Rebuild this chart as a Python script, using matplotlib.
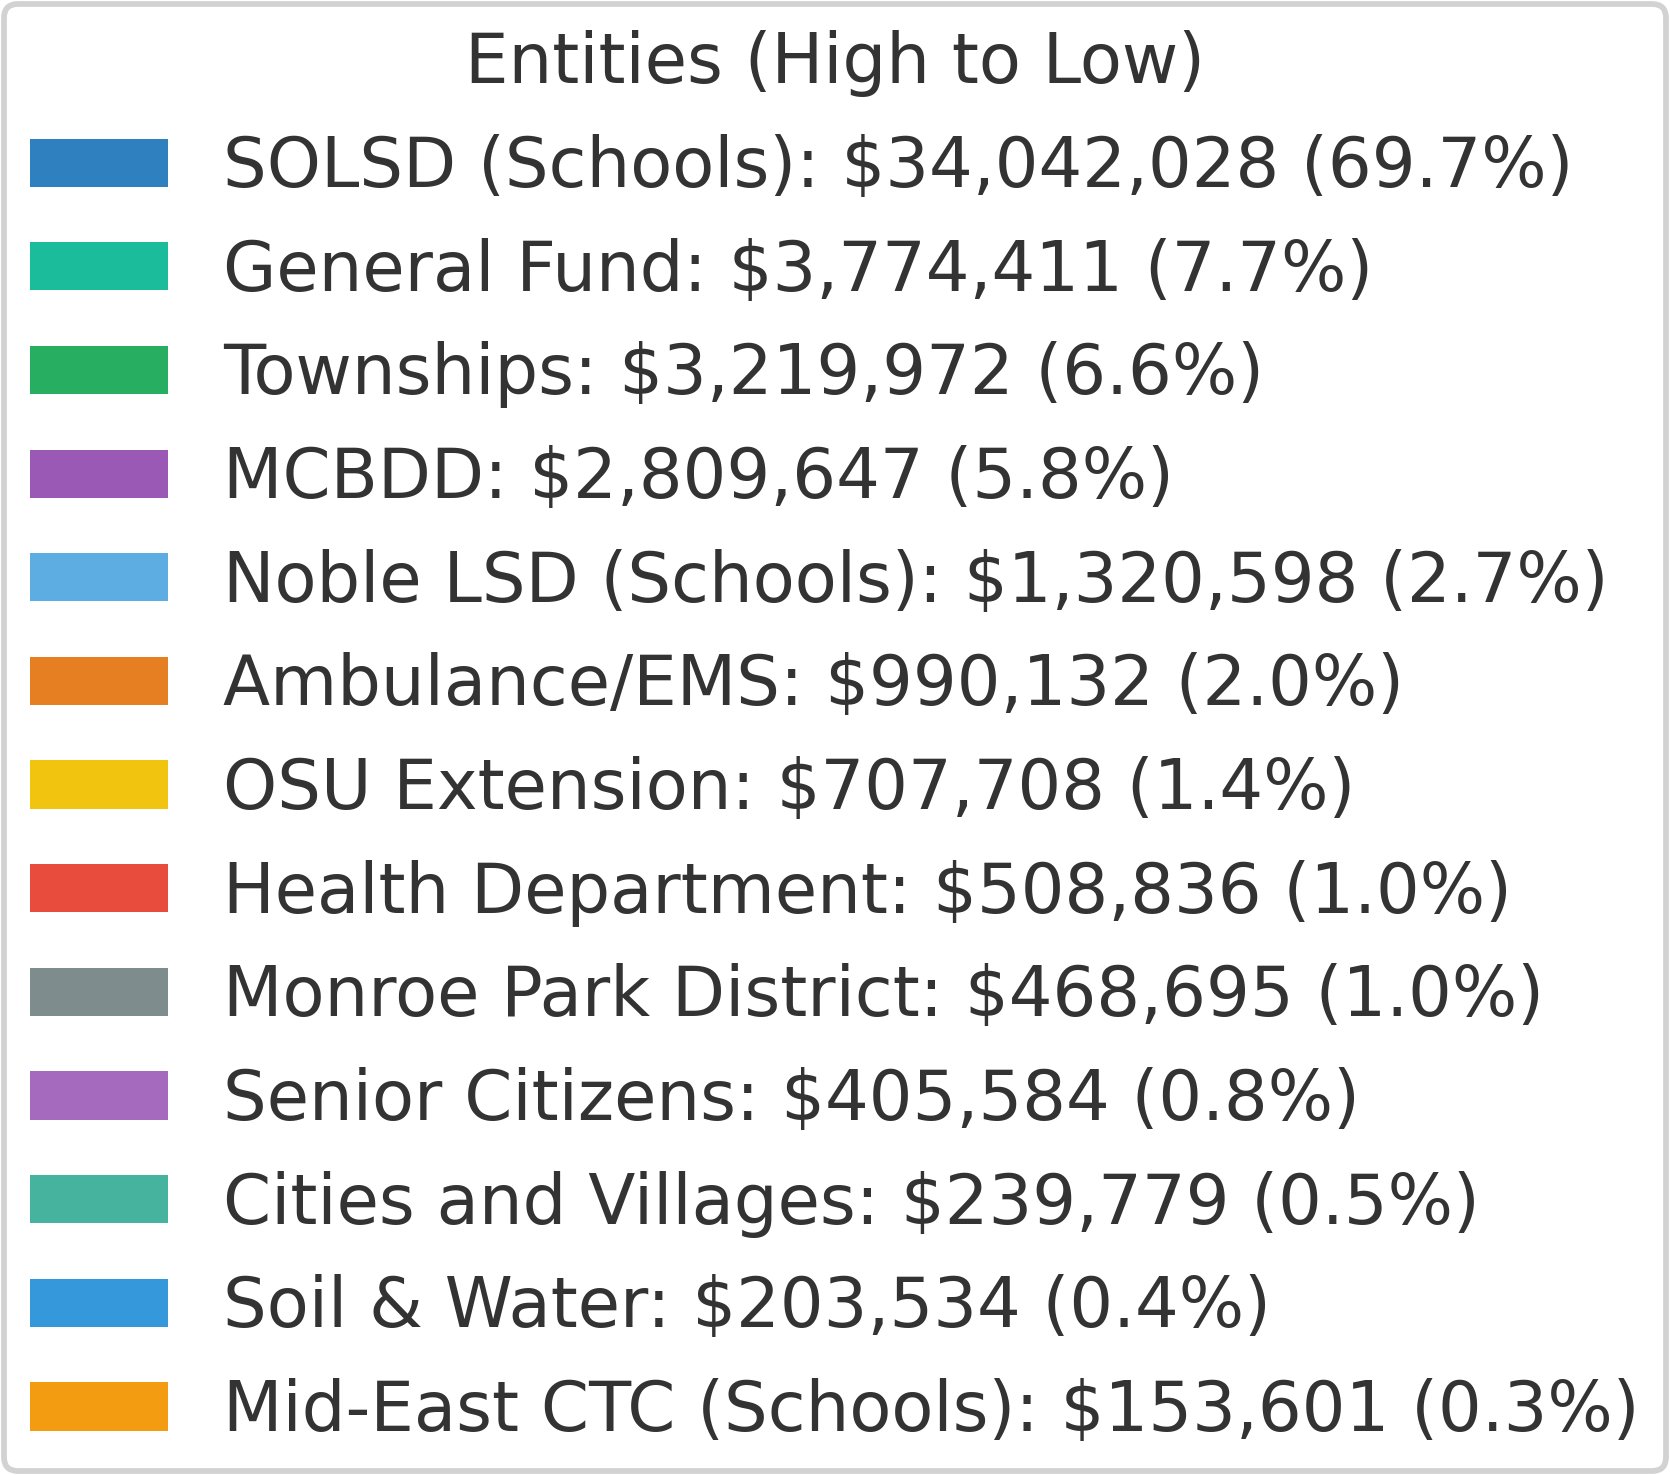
import matplotlib
matplotlib.use("Agg")
import matplotlib.pyplot as plt
from matplotlib.patches import Patch
from matplotlib.transforms import Bbox

entities = ["SOLSD (Schools)", "General Fund", "Townships", "MCBDD", "Noble LSD (Schools)",
            "Ambulance/EMS", "OSU Extension", "Health Department", "Monroe Park District",
            "Senior Citizens", "Cities and Villages", "Soil & Water", "Mid-East CTC (Schools)"]
amounts = [34042028, 3774411, 3219972, 2809647, 1320598, 990132, 707708, 508836,
           468695, 405584, 239779, 203534, 153601]
percents = [69.7, 7.7, 6.6, 5.8, 2.7, 2.0, 1.4, 1.0, 1.0, 0.8, 0.5, 0.4, 0.3]
colors = ["#2E80BE", "#1ABC9C", "#27AE60", "#9B59B6", "#5DADE2", "#E67E22", "#F1C40F",
          "#E74C3C", "#7F8C8D", "#A569BD", "#45B39D", "#3498DB", "#F39C12"]
title = "Entities (High to Low)"

plt.rcParams['font.family'] = ['DejaVu Sans']
TXT = "#333333"
FS = 24

fig = plt.figure(figsize=(10, 10), dpi=100)
handles = [Patch(facecolor=c, edgecolor=c, linewidth=0) for c in colors]
labels = [f"{n}: ${a:,} ({p:.1f}%)" for n, a, p in zip(entities, amounts, percents)]
leg = fig.legend(handles, labels, loc="center", fontsize=FS, title=title,
                 title_fontsize=FS, frameon=True, fancybox=True,
                 labelcolor=TXT, framealpha=1.0, borderpad=0.38, labelspacing=0.532)
leg.get_title().set_color(TXT)
frame = leg.get_frame()
frame.set_edgecolor("#d2d2d2")
frame.set_linewidth(2.0)
frame.set_facecolor("white")

pad = 0.02
dpi = 100
for _ in range(4):
    fig.set_dpi(dpi)
    fig.canvas.draw()
    r = fig.canvas.get_renderer()
    bb = frame.get_window_extent(r).transformed(fig.dpi_scale_trans.inverted())
    dpi = 1670 / (bb.width + 2 * pad)

fig.set_dpi(dpi)
fig.canvas.draw()
r = fig.canvas.get_renderer()
bb = frame.get_window_extent(r).transformed(fig.dpi_scale_trans.inverted())
box = Bbox.from_extents(bb.x0 - pad, bb.y0 - pad, bb.x1 + pad, bb.y1 + pad)
fig.savefig("out.png", dpi=dpi, bbox_inches=box, pad_inches=0, facecolor="white")
